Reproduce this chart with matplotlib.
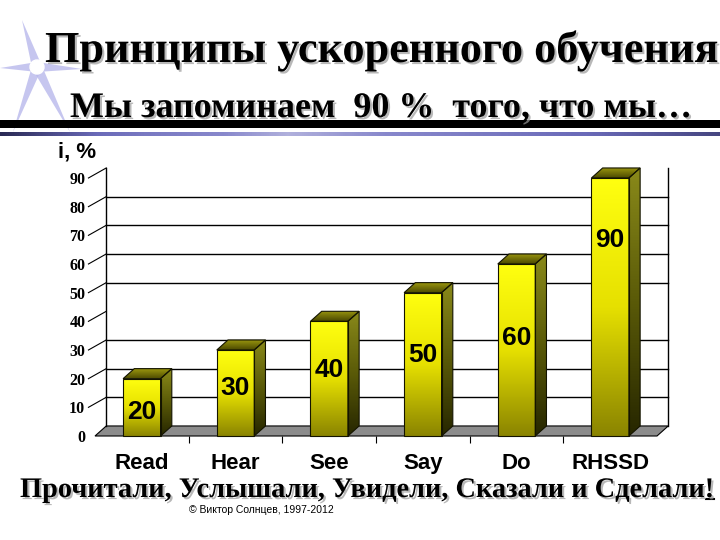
import numpy as np
import matplotlib
matplotlib.use('Agg')
import matplotlib.pyplot as plt
from matplotlib.patches import Polygon, Rectangle
import matplotlib.patheffects as pe
from matplotlib.colors import LinearSegmentedColormap

# данные
categories = ['Read', 'Hear', 'See', 'Say', 'Do', 'RHSSD']
values = [20, 30, 40, 50, 60, 90]
label_heights = [8.4, 16.7, 23, 28.2, 34.1, 68.3]   # где стоит подпись на столбике
y_ticks = [0, 10, 20, 30, 40, 50, 60, 70, 80, 90]
grid_values = [10, 20, 30, 50, 60, 70, 80]

serif = 'Liberation Serif'
sans = 'Liberation Sans'

fig = plt.figure(figsize=(7.2, 5.4), dpi=100)
fig.patch.set_facecolor('white')

# фон: звезда и полосы под заголовком
bg = fig.add_axes([0, 0, 1, 1], zorder=0)
bg.set_xlim(0, 720)
bg.set_ylim(540, 0)
bg.axis('off')

star_c = (37, 67)
spikes = [(22, 20), (0, 68), (82, 69), (13, 132), (70, 132)]
for sx, sy in spikes:
    vx, vy = sx - star_c[0], sy - star_c[1]
    n = np.hypot(vx, vy)
    px, py = -vy / n * 5, vx / n * 5
    bg.add_patch(Polygon([(star_c[0] + px, star_c[1] + py), (sx, sy),
                          (star_c[0] - px, star_c[1] - py)],
                         closed=True, facecolor='#b8b8ec', edgecolor='none', alpha=0.8))
bg.add_patch(plt.Circle(star_c, 7, color='white'))

bg.add_patch(Rectangle((0, 120), 720, 8, facecolor='black', edgecolor='none'))
grad = np.array([0.0, 0.5, 0.8, 0.6, 0.35, 0.15])
cm_line = LinearSegmentedColormap.from_list('ln', ['#2a2a55', '#6a6ab8', '#8888cc', '#ececf4'])
bg.imshow(np.interp(np.linspace(0, 1, 300), np.linspace(0, 1, len(grad)), grad)[None, :],
          extent=(0, 720, 136, 132), cmap=cm_line, aspect='auto', vmin=0, vmax=1)
bg.set_xlim(0, 720)
bg.set_ylim(540, 0)

# заголовки
shadow = [pe.withSimplePatchShadow(offset=(1.5, -1.5), shadow_rgbFace='#9a9a9a', alpha=0.7)]
title = fig.text(45 / 720, 1 - 62 / 540, 'Принципы ускоренного обучения', family=serif,
                 fontweight='bold', fontsize=30, ha='left', va='baseline', path_effects=shadow)
sub = fig.text(70 / 720, 1 - 117 / 540, 'Мы запоминаем  90 %  того, что мы…', family=serif,
               fontweight='bold', fontsize=22, ha='left', va='baseline', path_effects=shadow)
bottom = fig.text(20 / 720, 1 - 497 / 540, 'Прочитали, Услышали, Увидели, Сказали и Сделали!',
                  family=serif, fontweight='bold', fontsize=22, ha='left', va='baseline',
                  path_effects=shadow)
fig.text(261 / 720, 1 - 510 / 540, '© Виктор Солнцев, 1997-2012', family=sans,
         fontsize=7.5, ha='center', va='center')
fig.text(58 / 720, 1 - 152 / 540, 'i, %', family=sans, fontweight='bold',
         fontsize=16, ha='left', va='center')

r = fig.canvas.get_renderer()
for t, w_target in [(title, 673), (sub, 620), (bottom, 692)]:
    w = t.get_window_extent(r).width
    t.set_fontsize(t.get_fontsize() * w_target / w)

# подчёркнутый «!» в конце нижней строки
bb = bottom.get_window_extent(r)
bg.plot([bb.x1 - 8, bb.x1], [499, 499], color='black', lw=1.5)

# диаграмма
ax = fig.add_axes([95 / 720, 104 / 540, 562 / 720, 258 / 540], zorder=2)
ax.patch.set_alpha(0)
dx, dy = 0.12, 3.5
bw = 0.4
x = np.arange(len(categories))

# пол и стены
ax.add_patch(Polygon([(-0.5, 0), (5.5, 0), (5.5 + dx, dy), (-0.5 + dx, dy)], closed=True,
                     facecolor='#8c8c8c', edgecolor='black', lw=0.8, clip_on=False, zorder=1))
for g in grid_values:
    ax.plot([-0.5 + dx, 5.5 + dx], [g + dy, g + dy], color='black', lw=1, clip_on=False, zorder=1)
for wx in (-0.5 + dx, 5.5 + dx):
    ax.plot([wx, wx], [dy, 90 + dy], color='black', lw=1, clip_on=False, zorder=1)
for v in y_ticks[1:]:
    ax.plot([-0.5 - 0.07, -0.5 + dx], [v, v + dy], color='black', lw=0.8, clip_on=False, zorder=1)

cm_front = LinearSegmentedColormap.from_list('fr', ['#ffff10', '#e6e000', '#8a8400'])
cm_side = LinearSegmentedColormap.from_list('sd', ['#8a8a1a', '#5a5a08', '#262600'])
cm_top = LinearSegmentedColormap.from_list('tp', ['#a09c10', '#4a4800'])
ramp = np.linspace(0, 1, 256)[:, None]

for i, v in zip(x, values):
    x0, x1 = i - bw / 2, i + bw / 2
    front = [(x0, 0), (x1, 0), (x1, v), (x0, v)]
    side = [(x1, 0), (x1 + dx, dy), (x1 + dx, v + dy), (x1, v)]
    top = [(x0, v), (x1, v), (x1 + dx, v + dy), (x0 + dx, v + dy)]
    for pts, cmap, ext in [(front, cm_front, (x0, x1, 0, v)),
                           (side, cm_side, (x1, x1 + dx, 0, v + dy)),
                           (top, cm_top, (x0, x1 + dx, v, v + dy))]:
        poly = Polygon(pts, closed=True, facecolor='none', edgecolor='#141400', lw=0.8,
                       clip_on=False, zorder=4)
        ax.add_patch(poly)
        im = ax.imshow(ramp, extent=ext, cmap=cmap, origin='upper', aspect='auto',
                       zorder=3, interpolation='bilinear')
        im.set_clip_box(fig.bbox)
        im.set_clip_path(poly)
    ax.text(i, label_heights[i], str(v), family=sans, fontweight='bold', fontsize=19,
            ha='center', va='center', zorder=5)

ax.set_xlim(-0.5, 5.5)
ax.set_ylim(0, 90)
ax.set_aspect('auto')
for s in ax.spines.values():
    s.set_visible(False)
ax.set_xticks(x)
ax.set_xticklabels(categories, family=sans, fontweight='bold', fontsize=16)
ax.set_xticks(np.arange(0.5, 5, 1), minor=True)
ax.tick_params(axis='x', which='major', length=0, pad=12)
ax.tick_params(axis='x', which='minor', length=5, width=0.8, direction='out')
ax.set_yticks(y_ticks)
ax.set_yticklabels([str(t) for t in y_ticks], family=serif, fontweight='bold', fontsize=11.5)
ax.tick_params(axis='y', length=0, pad=7)

fig.savefig('out.png', dpi=100, facecolor='white')
